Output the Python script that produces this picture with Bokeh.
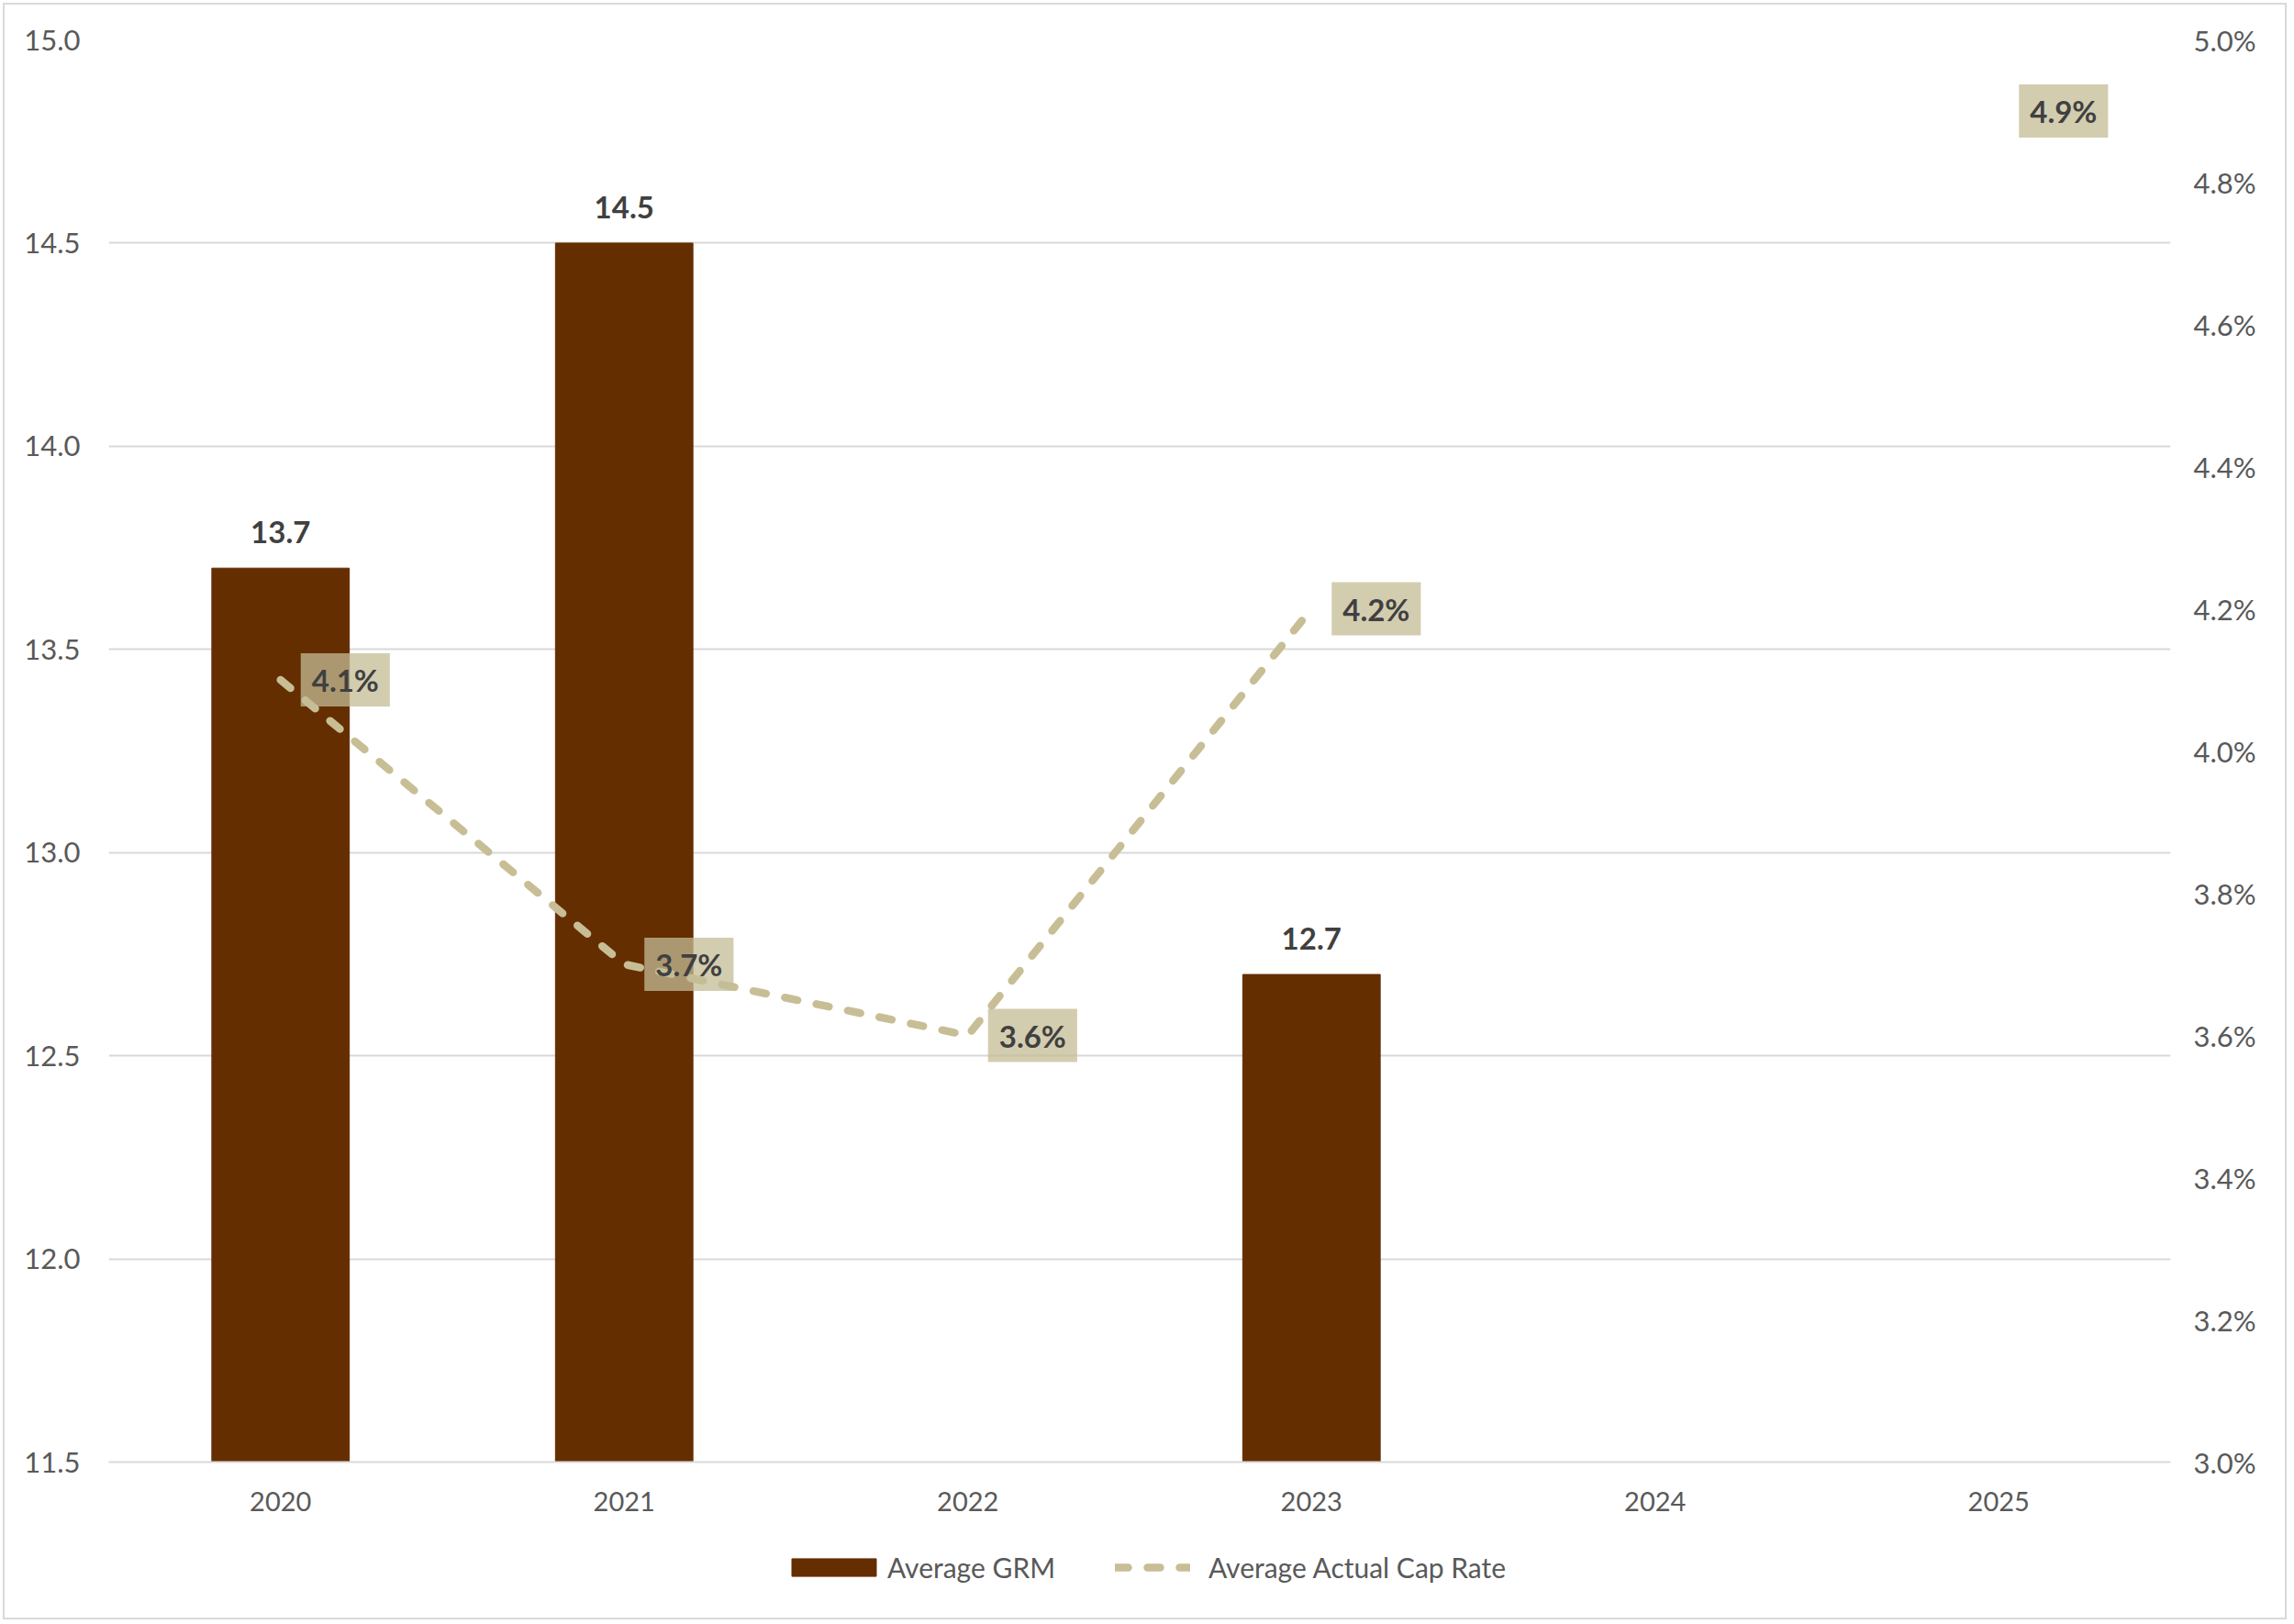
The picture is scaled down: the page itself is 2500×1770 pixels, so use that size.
from bokeh.plotting import figure
from bokeh.layouts import column
from bokeh.models import (ColumnDataSource, Range1d, LinearAxis, FixedTicker,
                          PrintfTickFormatter, Legend, LegendItem)
from bokeh.core.properties import value
from bokeh.embed import file_html
from bokeh.resources import INLINE

# chart data
years = ["2020", "2021", "2022", "2023", "2024", "2025"]
avg_grm = [13.7, 14.5, None, 12.7, None, None]
cap_rate = [4.1, 3.7, 3.6, 4.2, None, 4.9]
grm_ticks = [11.5, 12.0, 12.5, 13.0, 13.5, 14.0, 14.5, 15.0]
cap_ticks = [3.0, 3.2, 3.4, 3.6, 3.8, 4.0, 4.2, 4.4, 4.6, 4.8, 5.0]

FONT = "Lato"
BROWN = "#652E00"
TAN = "#C8BE96"
GRID = "#D9D9D9"
TICK_TEXT = "#595959"
LABEL_TEXT = "#404040"

# sources
bar_source = ColumnDataSource(dict(
    x=[y for y, v in zip(years, avg_grm) if v is not None],
    top=[v for v in avg_grm if v is not None],
))
bar_source.data["label"] = ["%.1f" % v for v in bar_source.data["top"]]

line_source = ColumnDataSource(dict(
    x=years,
    y=[float("nan") if v is None else v for v in cap_rate],
))

cap_label_source = ColumnDataSource(dict(
    x=[y for y, v in zip(years, cap_rate) if v is not None],
    y=[v for v in cap_rate if v is not None],
))
cap_label_source.data["label"] = ["%.1f%%" % v for v in cap_label_source.data["y"]]

p = figure(x_range=years, y_range=Range1d(grm_ticks[0], grm_ticks[-1]),
           width=2485, height=1660, output_backend="svg", toolbar_location=None,
           min_border_left=113, min_border_right=125, min_border_top=38,
           min_border_bottom=72)
p.outline_line_color = None
p.background_fill_color = "white"
p.border_fill_color = "white"

p.extra_y_ranges = {"cap": Range1d(cap_ticks[0], cap_ticks[-1])}

# grid
p.xgrid.grid_line_color = None
p.ygrid.grid_line_color = GRID
p.ygrid.grid_line_width = 2

# left axis
p.yaxis.ticker = FixedTicker(ticks=grm_ticks)
p.yaxis.formatter = PrintfTickFormatter(format="%.1f")
p.yaxis.axis_line_color = None
p.yaxis.major_tick_line_color = None
p.yaxis.minor_tick_line_color = None
p.yaxis.major_label_standoff = 25
p.yaxis.major_label_text_font = FONT
p.yaxis.major_label_text_font_size = "31px"
p.yaxis.major_label_text_color = TICK_TEXT

# bottom axis
p.xaxis.axis_line_color = GRID
p.xaxis.axis_line_width = 2
p.xaxis.major_tick_line_color = None
p.xaxis.minor_tick_line_color = None
p.xaxis.major_label_standoff = 26
p.xaxis.major_label_text_font = FONT
p.xaxis.major_label_text_font_size = "29px"
p.xaxis.major_label_text_color = TICK_TEXT

# right axis
right_axis = LinearAxis(y_range_name="cap", ticker=FixedTicker(ticks=cap_ticks),
                        formatter=PrintfTickFormatter(format="%.1f%%"))
right_axis.axis_line_color = None
right_axis.major_tick_line_color = None
right_axis.minor_tick_line_color = None
right_axis.major_label_standoff = 19
right_axis.major_label_text_font = FONT
right_axis.major_label_text_font_size = "31px"
right_axis.major_label_text_color = TICK_TEXT
p.add_layout(right_axis, "right")

# bars
bars = p.vbar(x="x", top="top", bottom=grm_ticks[0], width=0.4, source=bar_source,
              fill_color=BROWN, line_color=BROWN)
p.text(x="x", y="top", text="label", source=bar_source, text_align="center",
       text_baseline="alphabetic", y_offset=-39, text_font=value(FONT),
       text_font_style="bold", text_font_size="33px", text_color=LABEL_TEXT)

# cap rate line
line = p.line(x="x", y="y", source=line_source, y_range_name="cap", line_color=TAN,
              line_width=8.5, line_dash="14 21", line_cap="round")

# cap rate labels with boxes
p.text(x="x", y="y", text="label", source=cap_label_source, y_range_name="cap",
       text_align="left", text_baseline="middle", x_offset=22,
       text_font=value(FONT), text_font_style="bold", text_font_size="33px",
       text_color=LABEL_TEXT, background_fill_color="#C4BC96",
       background_fill_alpha=0.75, padding=(12, 9))

# legend strip under the chart (annotations are clipped to the plot frame);
# its frame lines up with the main frame, the key renderers stay hidden
lf = figure(width=2485, height=98, x_range=years, y_range=Range1d(0, 1),
            output_backend="svg", toolbar_location=None, min_border=0,
            x_axis_type=None, y_axis_type=None)
lf.outline_line_color = None
lf.xgrid.visible = False
lf.ygrid.visible = False
bar_key = lf.vbar(x="x", top="top", width=0.4, source=bar_source,
                  fill_color=BROWN, line_color=BROWN, visible=False)
line_key = lf.line(x="x", y="y", source=line_source, line_color=TAN, line_width=8.5,
                   line_dash="14 21", line_cap="round", visible=False)

legend_style = dict(orientation="horizontal", padding=0, margin=0,
                    border_line_color=None, background_fill_alpha=0, glyph_height=24,
                    label_text_font=FONT, label_text_font_size="30px",
                    label_text_color=TICK_TEXT)
legend1 = Legend(items=[LegendItem(label="Average GRM", renderers=[bar_key])],
                 location=(733, 37), glyph_width=115, label_standoff=1,
                 **legend_style)
legend2 = Legend(items=[LegendItem(label="Average Actual Cap Rate", renderers=[line_key])],
                 location=(1097, 37), glyph_width=82, label_standoff=20,
                 **legend_style)
lf.add_layout(legend1)
lf.add_layout(legend2)

page = column(p, lf, spacing=0)
page.styles = {"border": "2px solid #D9D9D9", "margin": "3px 0 0 3px"}

open("out.html", "w").write(file_html(page, INLINE))
